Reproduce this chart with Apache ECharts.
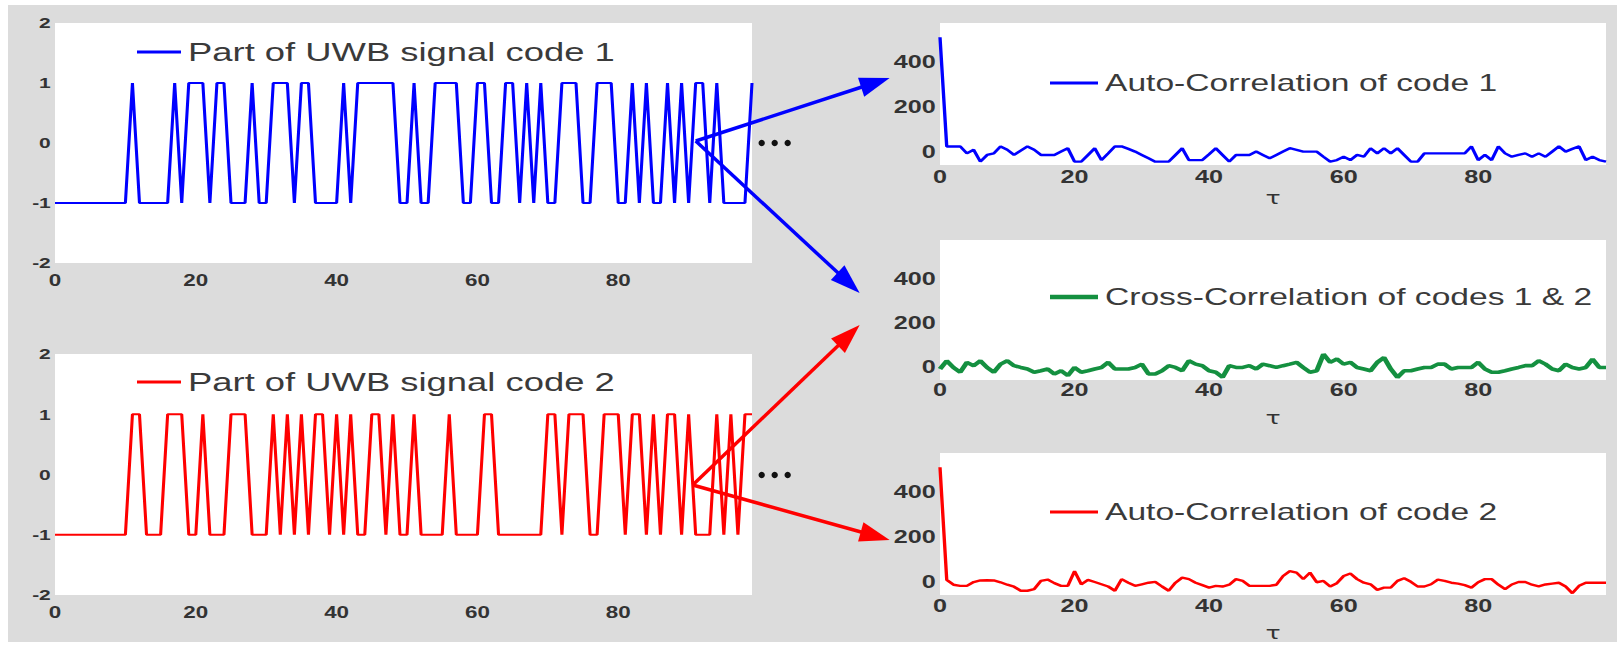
<!DOCTYPE html>
<html><head><meta charset="utf-8">
<script src="https://cdn.jsdelivr.net/npm/echarts@6/dist/echarts.min.js"></script>
<style>
html,body{margin:0;padding:0;background:#fff;width:1623px;height:657px;overflow:hidden;}
#bg{position:absolute;left:8px;top:5px;width:1609px;height:637px;background:#dcdcdc;}
#chart{position:absolute;left:0;top:0;height:657px;transform-origin:0 0;}
</style></head><body><div id="bg"></div><div id="chart"></div>
<script>
// ---------- data ----------
const tau = Array.from({length: 100}, (_, i) => i);
const code1 = [-1,-1,-1,-1,-1,-1,-1,-1,-1,-1, -1,1,-1,-1,-1,-1,-1,1,-1,1, 1,1,-1,1,1,-1,-1,-1,1,-1, -1,1,1,1,-1,1,1,-1,-1,-1, -1,1,-1,1,1,1,1,1,1,-1, -1,1,-1,-1,1,1,1,1,-1,-1, 1,1,-1,-1,1,1,-1,1,-1,1, -1,-1,1,1,1,-1,-1,1,1,1, -1,-1,1,-1,1,-1,-1,1,-1,1, -1,1,1,-1,1,-1,-1,-1,-1,1];
const code2 = [-1,-1,-1,-1,-1,-1,-1,-1,-1,-1, -1,1,1,-1,-1,-1,1,1,1,-1, -1,1,-1,-1,-1,1,1,1,-1,-1, -1,1,-1,1,-1,1,-1,1,1,-1, 1,-1,1,-1,-1,1,1,-1,1,-1, -1,1,-1,-1,-1,-1,1,-1,-1,-1, -1,1,1,-1,-1,-1,-1,-1,-1,-1, 1,1,-1,1,1,1,-1,-1,1,1, 1,-1,1,1,-1,1,-1,1,1,-1, 1,-1,-1,-1,1,-1,1,-1,1,1];
const auto1 = [511,23,23,23,-8,8,-45,-15,-8,23, 8,-15,4,23,8,-15,-15,-15,0,15, -45,-45,-15,15,-38,-8,23,23,12,0, -15,-30,-45,-45,-45,-15,15,-38,-38,-38, -12,15,-15,-45,-15,-15,-15,0,-15,-30, -15,0,15,8,0,0,0,-23,-45,-38, -23,-38,-15,-23,15,-8,15,-8,15,-15, -45,-45,-8,-8,-8,-8,-8,-8,-8,23, -38,-15,-38,23,-8,-23,-15,-8,-23,-8, -23,0,23,0,12,23,-38,-23,-38,-45];
const cross12 = [-10,27,-3,-25,20,5,27,-3,-25,12, 27,5,-3,-10,-25,-18,-10,-33,-18,-40, -3,-25,-18,-10,-3,20,-10,-10,-10,-3, 12,-33,-33,-18,5,-3,-18,27,12,5, -18,-25,-48,5,-3,-3,5,-10,12,5, -3,5,12,20,-3,-25,-18,57,20,35, 12,20,-3,-10,-18,20,42,-10,-48,-18, -18,-10,-3,-3,12,12,-10,-3,-3,-3, 20,-10,-25,-25,-18,-10,-3,5,5,27, 12,-10,-18,12,-3,-10,-3,35,-3,-3];
const auto2 = [511,8,-14,-19,-19,-2,5,6,5,-3, -14,-23,-41,-41,-34,3,9,-7,-19,-19, 47,-12,8,-2,-12,-22,-41,11,-5,-19, -12,-5,-1,-22,-41,-5,18,11,-5,-16, -27,-19,-22,-14,11,3,-19,-19,-19,-19, -14,25,47,40,11,40,-3,3,-22,-7, 25,36,11,-5,-12,-37,-27,-27,3,15, -1,-22,-22,-12,9,3,-5,-9,-16,-27, -3,11,11,-14,-34,-13,-2,-2,-14,-21, -13,-9,-5,-22,-52,-19,-5,-5,-5,-5];
const leftXTicks = [0, 20, 40, 60, 80];
const rightXTicks = [0, 20, 40, 60, 80];
const rightYTicks = [0, 200, 400];
const names = ['Part of UWB signal code 1', 'Part of UWB signal code 2',
  'Auto-Correlation of code 1', 'Cross-Correlation of codes 1 & 2', 'Auto-Correlation of code 2'];

// ---------- layout (original figure is stretched horizontally) ----------
const SX = 1.4;
const X = v => v / SX;
const W = 1623 / SX;
const FONT = '"Liberation Sans", Arial, Helvetica, sans-serif';
const dom = document.getElementById('chart');
dom.style.width = W + 'px';
dom.style.transform = 'scaleX(' + SX + ')';

const grids = [
  {left: X(55), top: 23, width: X(697), height: 240},
  {left: X(55), top: 354, width: X(697), height: 241},
  {left: X(940), top: 23, width: X(666), height: 142},
  {left: X(940), top: 240, width: X(666), height: 140},
  {left: X(940), top: 453, width: X(666), height: 142}
].map(g => Object.assign(g, {show: true, backgroundColor: '#ffffff', borderWidth: 0, containLabel: false}));

const hidden = {axisLine: {show: false}, axisTick: {show: false}, splitLine: {show: false}};
const lbl = (size, margin, vals) => ({fontSize: size, fontWeight: 'bold', color: '#333', fontFamily: FONT, margin: margin, customValues: vals});

const xAxes = [0, 1, 2, 3, 4].map(i => {
  const left = i < 2;
  const ax = Object.assign({gridIndex: i, type: 'value', min: 0, max: 99}, hidden, {
    axisLabel: left ? lbl(16, 9, leftXTicks) : lbl(18, [3, 1, 2][i - 2], rightXTicks)
  });
  if (!left) {
    ax.name = 'τ';
    ax.nameLocation = 'middle';
    ax.nameGap = [24, 29, 29][i - 2];
    ax.nameTextStyle = {fontSize: 18, color: '#333', fontFamily: 'DejaVu Sans, sans-serif'};
  }
  return ax;
});
const yAxes = [0, 1, 2, 3, 4].map(i => {
  const left = i < 2;
  return Object.assign({gridIndex: i, type: 'value'}, hidden,
    left ? {min: -2, max: 2, interval: 1, axisLabel: lbl(15, 3)} :
           {min: -60, max: 575, axisLabel: lbl(18, 3, rightYTicks)});
});

const colors = ['#0000ff', '#ff0000', '#0000ff', '#149040', '#ff0000'];
const widths = [2.2, 2.2, 2.4, 3.6, 2.4];
const datasets = [code1, code2, auto1, cross12, auto2];
const series = datasets.map((d, i) => ({
  name: names[i], type: 'line', xAxisIndex: i, yAxisIndex: i,
  data: tau.map((t, k) => [t, d[k]]),
  symbol: 'none', showSymbol: false, color: colors[i],
  lineStyle: {color: colors[i], width: widths[i]}, animation: false, silent: true
}));

const legendPos = [
  {left: X(137), top: 39, itemWidth: X(44), fs: 26, h: 3},
  {left: X(137), top: 369, itemWidth: X(44), fs: 26, h: 3},
  {left: X(1050), top: 71, itemWidth: X(48), fs: 24, h: 3},
  {left: X(1050), top: 285, itemWidth: X(48), fs: 24, h: 4.5},
  {left: X(1050), top: 500, itemWidth: X(48), fs: 24, h: 3}
];
const legends = legendPos.map((p, i) => ({
  data: [names[i]], left: p.left, top: p.top, itemWidth: p.itemWidth, itemHeight: p.h,
  icon: 'rect', padding: 0, selectedMode: false, backgroundColor: 'transparent',
  textStyle: {fontSize: p.fs, color: '#3a3a3a', fontFamily: FONT}
}));

// ---------- annotations (arrows and dots), in figure pixels ----------
const arrows = [
  {from: [696, 141], to: [890, 78], color: '#0000ff'},
  {from: [696, 141], to: [860, 293], color: '#0000ff'},
  {from: [693, 485], to: [860, 325], color: '#ff0000'},
  {from: [693, 485], to: [890, 540], color: '#ff0000'}
];
const dots = [[762, 143], [775, 143], [788, 143], [762, 475], [775, 475], [788, 475]];
const children = [];
arrows.forEach(a => {
  const [x0, y0] = a.from, [x1, y1] = a.to;
  const dx = x1 - x0, dy = y1 - y0, L = Math.hypot(dx, dy);
  const ux = dx / L, uy = dy / L, nx = -uy, ny = ux;
  const hl = 30, hw = 10;
  const bx = x1 - ux * hl, by = y1 - uy * hl;
  children.push({type: 'line', shape: {x1: x0, y1: y0, x2: bx + ux * 4, y2: by + uy * 4},
    style: {stroke: a.color, lineWidth: 3.5}});
  children.push({type: 'polygon', shape: {points: [[x1, y1], [bx + nx * hw, by + ny * hw], [bx - nx * hw, by - ny * hw]]},
    style: {fill: a.color}});
});
dots.forEach(d => children.push({type: 'circle', shape: {cx: d[0], cy: d[1], r: 3.2}, style: {fill: '#111'}}));

const chart = echarts.init(dom, null, {renderer: 'svg', width: W, height: 657});
chart.setOption({
  animation: false,
  backgroundColor: 'transparent',
  grid: grids, xAxis: xAxes, yAxis: yAxes, series: series, legend: legends,
  graphic: [{type: 'group', scaleX: 1 / SX, z: 100, silent: true, children: children}]
});
</script></body></html>
